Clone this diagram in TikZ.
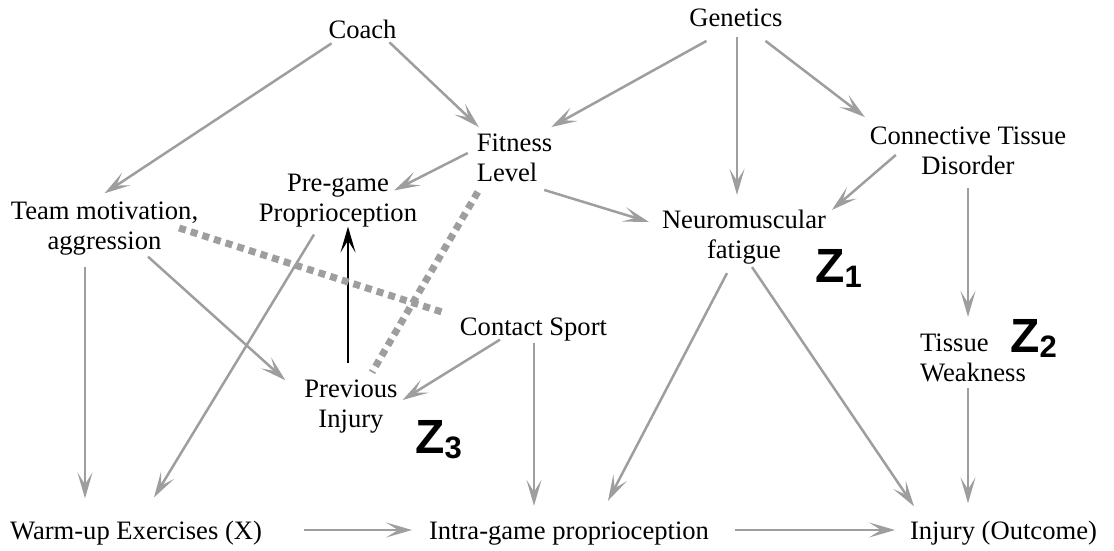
\documentclass[tikz,border=0pt]{standalone}
\usepackage{fontspec}
\setmainfont{Liberation Serif}
\newfontfamily\zfont{Liberation Sans}
\usetikzlibrary{arrows.meta}
\definecolor{edgegray}{RGB}{158,158,158}
\newcommand{\zvar}[1]{{\zfont\bfseries\fontsize{24}{24}\selectfont Z\raisebox{-2.5pt}{\fontsize{15.5}{15.5}\selectfont #1}}}

\begin{document}
\begin{tikzpicture}[x=0.5pt, y=-0.5pt,
        lbl/.style={inner sep=0pt, outer sep=0pt, align=center, font=\fontsize{13.3}{15}\selectfont},
        arr/.style={-{Stealth[length=13pt, width=7.5pt, inset=6pt]}, line width=1.25pt, edgegray},
        dotlink/.style={line width=3.5pt, edgegray, dash pattern=on 3.5pt off 2.6pt},
        zlab/.style={inner sep=0pt, anchor=base west}]
        \useasboundingbox (0,0) rectangle (1114,551);

        % Place the variables
        \node[lbl] (coach) at (362.5,29) {Coach};
        \node[lbl] (genetics) at (736,18) {Genetics};
        \node[lbl, align=left] (fitness) at (514.5,158) {Fitness\\Level};
        \node[lbl] (pregame) at (338,201) {Pre-game\\Proprioception};
        \node[lbl] (team) at (104.5,229) {Team motivation,\\aggression};
        \node[lbl] (tissue) at (968,151) {Connective Tissue\\Disorder};
        \node[lbl] (fatigue) at (744,237) {Neuromuscular\\fatigue};
        \node[lbl] (contact) at (533.5,330) {Contact Sport};
        \node[lbl] (previous) at (351,407) {Previous\\Injury};
        \node[lbl, align=left] (weakness) at (973,358) {Tissue\\Weakness};
        \node[lbl] (warmup) at (136,533.5) {Warm-up Exercises (X)};
        \node[lbl] (intra) at (569,533.5) {Intra-game proprioception};
        \node[lbl] (injury) at (1003.5,533.5) {Injury (Outcome)};

        % Mark the adjustment sets
        \node[zlab] (z1) at (815,282) {\zvar{1}};
        \node[zlab] (z2) at (1010,352) {\zvar{2}};
        \node[zlab] (z3) at (415,453) {\zvar{3}};

        % Draw the causal arrows
        \draw[arr] ([shift={(3,5)}]coach.south west) -- ([shift={(0,-9)}]team.north);
        \draw[arr] ([shift={(-7,4)}]coach.south east) -- ([shift={(2,-7)}]fitness.north west);
        \draw[arr] ([shift={(17,14)}]genetics.south west) -- ([shift={(-1,-7)}]fitness.north east);
        \draw[arr] ([shift={(1,10)}]genetics.south) -- ([shift={(-7,-15)}]fatigue.north);
        \draw[arr] ([shift={(-17,14)}]genetics.south east) -- ([shift={(-5,-10)}]tissue.north west);
        \draw[arr] ([shift={(-9,-5)}]fitness.west) -- ([shift={(-23,16)}]pregame.north east);
        \draw[arr] ([shift={(-8,8)}]fitness.south east) -- ([shift={(-13,-15)}]fatigue.west);
        \draw[arr] ([shift={(26,-20)}]tissue.south west) -- ([shift={(6,0)}]fatigue.north east);
        \draw[arr] ([shift={(0,13)}]tissue.south) -- ([shift={(-5,-17)}]weakness.north);
        \draw[arr] ([shift={(-5,6)}]weakness.south) -- ([shift={(-35.5,-18)}]injury.north);
        \draw[arr] ([shift={(-17,9)}]fatigue.south) -- ([shift={(39,-21)}]intra.north);
        \draw[arr] ([shift={(8,3)}]fatigue.south) -- ([shift={(4,-15)}]injury.north west);
        \draw[arr] ([shift={(-33.5,-2)}]contact.south) -- ([shift={(5,-7)}]previous.east);
        \draw[arr] ([shift={(0.5,1)}]contact.south) -- ([shift={(-35,-16)}]intra.north);
        \draw[arr] ([shift={(-19.5,11)}]team.south) -- ([shift={(-51,-23)}]warmup.north);
        \draw[arr] ([shift={(43.5,1)}]team.south) -- ([shift={(-19,0)}]previous.north west);
        \draw[arr] ([shift={(-24,7)}]pregame.south) -- ([shift={(18,-24)}]warmup.north);
        \draw[arr] ([shift={(42,-3.5)}]warmup.east) -- ([shift={(-17,-3.5)}]intra.west);
        \draw[arr] ([shift={(26,-3.5)}]intra.east) -- ([shift={(-15,-3.5)}]injury.west);

        % Previous injury acts on pre-game proprioception
        \draw[arr, black] ([shift={(-3,-17)}]previous.north) -- ([shift={(10,-1)}]pregame.south);

        % Unmeasured links
        \draw[dotlink] ([shift={(-19,-1)}]team.east) -- ([shift={(-15,-17)}]contact.west);
        \draw[dotlink] ([shift={(1,10)}]fitness.south west) -- ([shift={(21,-8)}]previous.north);
\end{tikzpicture}
\end{document}
